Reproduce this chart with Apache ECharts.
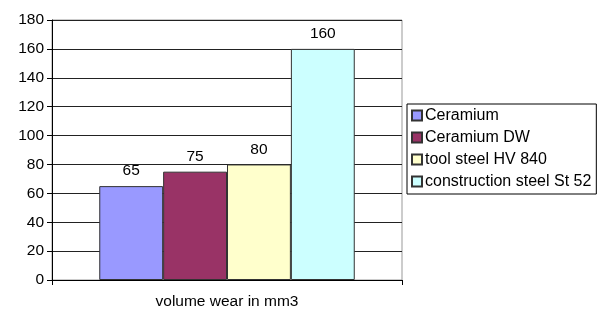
<!DOCTYPE html>
<html>
<head>
<meta charset="utf-8">
<script src="https://cdn.jsdelivr.net/npm/echarts@6/dist/echarts.min.js"></script>
<style>
  html, body { margin: 0; padding: 0; background: #fff; }
  #main { width: 606px; height: 311px; }
</style>
</head>
<body>
<div id="main"></div>
<script>
  const categories = ['volume wear in mm3'];
  const seriesNames = ['Ceramium', 'Ceramium DW', 'tool steel HV 840', 'construction steel St 52'];
  const seriesValues = [[65], [75], [80], [160]];
  const seriesColors = ['#9999FF', '#993366', '#FFFFCC', '#CCFFFF'];
  const yTicks = { min: 0, max: 180, interval: 20 };

  const font = 'Liberation Sans, Arial, sans-serif';
  const myChart = echarts.init(document.getElementById('main'));

  const option = {
    animation: false,
    textStyle: { fontFamily: font },
    grid: {
      left: 52,
      right: 204,
      top: 20,
      bottom: 31,
      show: true,
      borderColor: '#999',
      borderWidth: 1
    },
    legend: {
      orient: 'vertical',
      left: 407,
      top: 104,
      padding: [3, 5, 4, 4],
      borderColor: '#000',
      borderWidth: 1,
      itemWidth: 10,
      itemHeight: 10,
      itemGap: 5,
      icon: 'rect',
      textStyle: { fontFamily: font, fontSize: 16, lineHeight: 17, color: '#000', padding: [0, 0, 0, -2] },
      data: seriesNames
    },
    xAxis: {
      type: 'category',
      data: categories,
      axisLine: { lineStyle: { color: '#000' } },
      axisTick: { show: true, length: 5, lineStyle: { color: '#000' } },
      axisLabel: { color: '#000', fontSize: 15.5, fontFamily: font, margin: 14 }
    },
    yAxis: {
      type: 'value',
      min: yTicks.min,
      max: yTicks.max,
      interval: yTicks.interval,
      axisLine: { show: true, lineStyle: { color: '#000' } },
      axisTick: { show: true, length: 5, lineStyle: { color: '#000' } },
      axisLabel: { color: '#000', fontSize: 15.5, fontFamily: font, margin: 8 },
      splitLine: { lineStyle: { color: '#222', width: 1 } }
    },
    series: seriesNames.map((name, i) => ({
      name: name,
      type: 'bar',
      data: seriesValues[i],
      barGap: '0%',
      barCategoryGap: '27%',
      itemStyle: {
        color: seriesColors[i],
        borderColor: '#333',
        borderWidth: 1
      },
      label: {
        show: true,
        position: 'top',
        distance: 7,
        color: '#000',
        fontSize: 15.5,
        fontFamily: font
      }
    }))
  };
  option && myChart.setOption(option);
</script>
</body>
</html>
